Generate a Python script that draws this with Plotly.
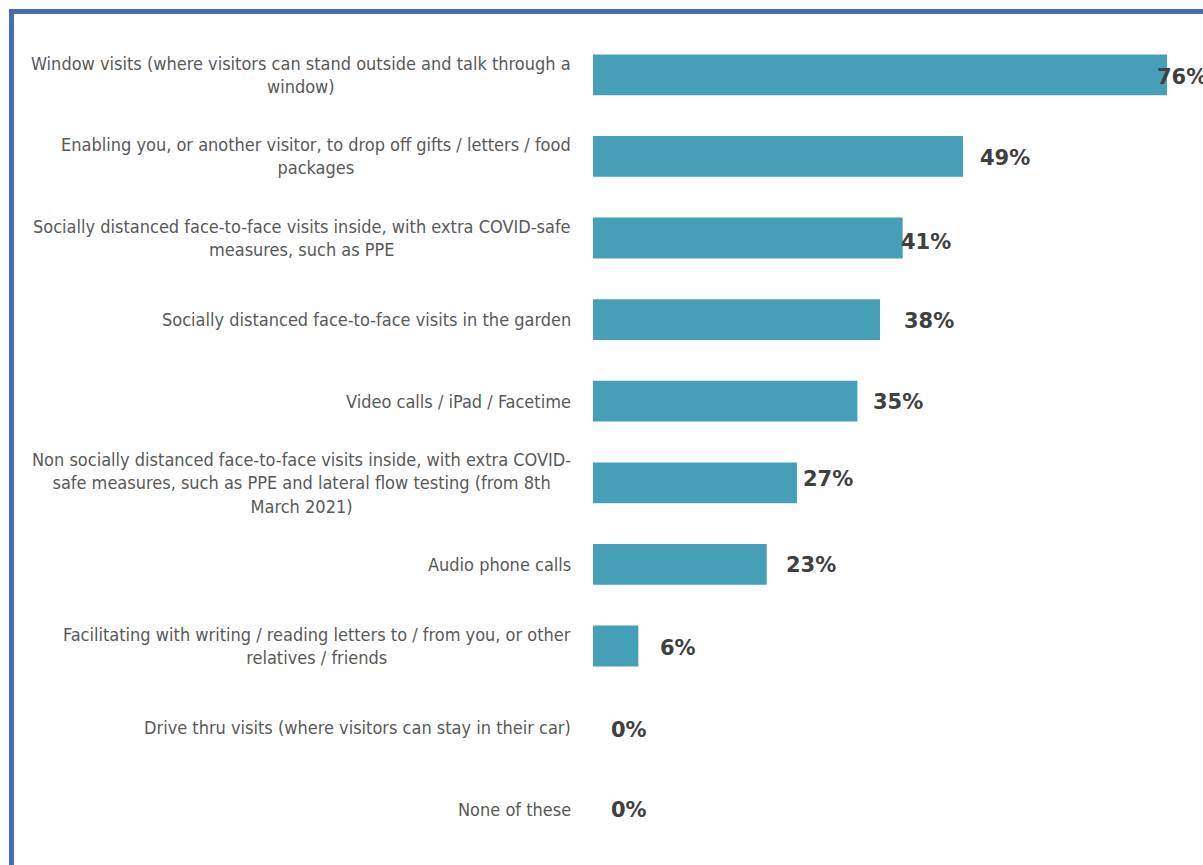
import plotly.graph_objects as go

# Survey responses: ways care homes have enabled contact
categories = [
    "Window visits (where visitors can stand outside and talk through a<br>window)",
    "Enabling you, or another visitor, to drop off gifts / letters / food<br>packages",
    "Socially distanced face-to-face visits inside, with extra COVID-safe<br>measures, such as PPE",
    "Socially distanced face-to-face visits in the garden",
    "Video calls / iPad / Facetime",
    "Non socially distanced face-to-face visits inside, with extra COVID-<br>safe measures, such as PPE and lateral flow testing (from 8th<br>March 2021)",
    "Audio phone calls",
    "Facilitating with writing / reading letters to / from you, or other<br>relatives / friends",
    "Drive thru visits (where visitors can stay in their car)",
    "None of these",
]
values = [76, 49, 41, 38, 35, 27, 23, 6, 0, 0]

# pixel nudges for the value labels (x, y)
label_xshift = [-12, 15, -4, 22, 14, 4, 17, 20, 16, 16]
label_yshift = [-2, -2, -4, -1, -1, 4, -1, -2, -2, -1]

W, H = 1203, 865
M_L, M_R, M_T, M_B = 593, 0, 34, 15
PX_PER_PCT = 7.553
PLOT_W = W - M_L - M_R
PLOT_H = H - M_T - M_B

BAR = "#459FB8"
FRAME = "#4A6AB4"
LABEL = "#595959"
VALUE = "#404040"

ypos = list(range(len(categories)))

fig = go.Figure(
    go.Bar(
        x=values,
        y=ypos,
        orientation="h",
        width=0.5,
        marker=dict(color=BAR, line=dict(width=0)),
        hoverinfo="skip",
    )
)


def px_x(px):
    return (px - M_L) / PLOT_W


def px_y(py):
    return 1 - (py - M_T) / PLOT_H


annotations = []
for i, (cat, v) in enumerate(zip(categories, values)):
    annotations.append(dict(
        x=px_x(573), xref="paper", y=i, yref="y",
        text=cat, showarrow=False, xanchor="right", yanchor="middle",
        align="center",
        font=dict(family="DejaVu Sans Condensed, DejaVu Sans, sans-serif",
                  size=18, color=LABEL),
    ))
    annotations.append(dict(
        x=v, xref="x", y=i, yref="y",
        text=f"{v}%", showarrow=False, xanchor="left", yanchor="middle",
        xshift=label_xshift[i], yshift=label_yshift[i],
        font=dict(family="DejaVu Sans, sans-serif", size=21,
                  color=VALUE, weight="bold"),
    ))

fig.update_layout(
    width=W, height=H,
    margin=dict(l=M_L, r=M_R, t=M_T, b=M_B, pad=0),
    paper_bgcolor="white", plot_bgcolor="white",
    showlegend=False,
    bargap=0.5,
    xaxis=dict(range=[0, PLOT_W / PX_PER_PCT], visible=False, fixedrange=True),
    yaxis=dict(range=[len(categories) - 0.5, -0.5], visible=False, fixedrange=True),
    annotations=annotations,
    shapes=[dict(
        type="rect", xref="paper", yref="paper",
        x0=px_x(11.5), y0=px_y(11.5), x1=px_x(W + 50), y1=px_y(H + 50),
        line=dict(color=FRAME, width=5), fillcolor="rgba(0,0,0,0)",
        layer="above",
    )],
)

fig.write_html("out.html", config={"displayModeBar": False})
